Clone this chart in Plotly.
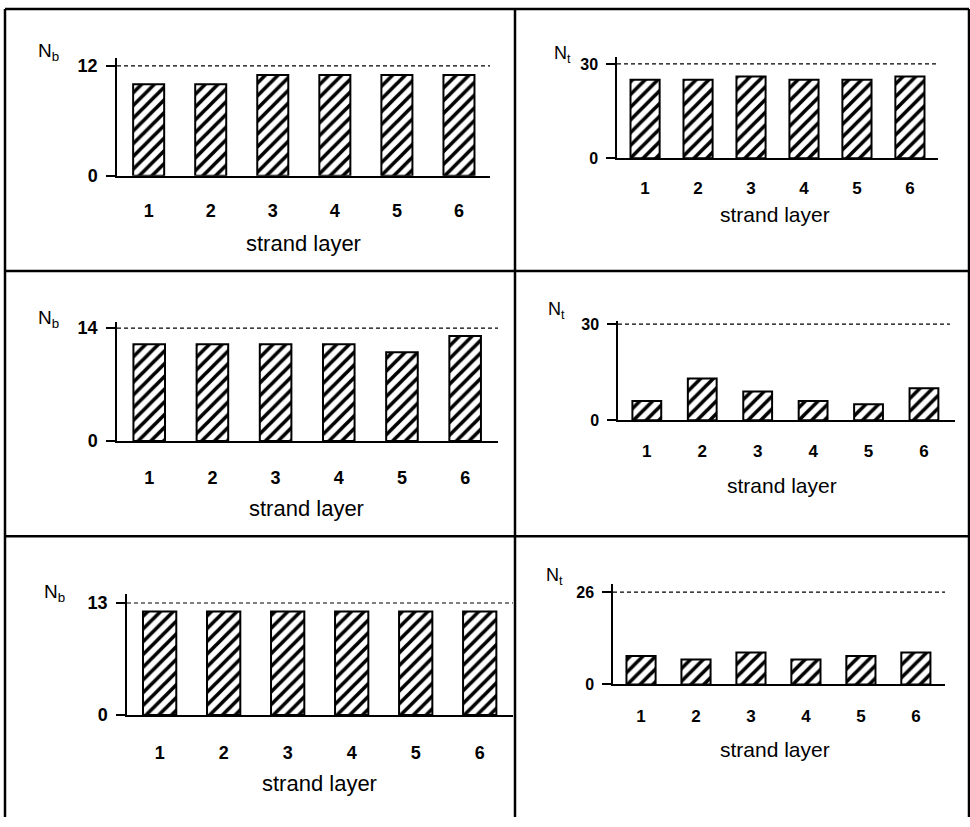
import plotly.graph_objects as go

W, H = 970, 827

# ---------------- data ----------------
layers = [1, 2, 3, 4, 5, 6]
nb_top = [10, 10, 11, 11, 11, 11]
nt_top = [25, 25, 26, 25, 25, 26]
nb_mid = [12, 12, 12, 12, 11, 13]
nt_mid = [6, 13, 9, 6, 5, 10]
nb_bot = [12, 12, 12, 12, 12, 12]
nt_bot = [8, 7, 9, 7, 8, 9]
limits = [12, 30, 14, 30, 13, 26]
ylabels = ["N<sub>b</sub>", "N<sub>t</sub>", "N<sub>b</sub>", "N<sub>t</sub>", "N<sub>b</sub>", "N<sub>t</sub>"]
xtitle = "strand layer"

series = [nb_top, nt_top, nb_mid, nt_mid, nb_bot, nt_bot]

# ---------------- layout geometry (pixels) ----------------
geo = [
    dict(x0=117, x1=490, y0=174, y1=54, xr=[0.49, 6.5], ytop=12.86, bw=0.50,
         big=True, stand=18, lab=(36, 48), tit=(303, 243), dash_x1=1.0),
    dict(x0=617, x1=938, y0=156, y1=53, xr=[0.47, 6.53], ytop=32.2, bw=0.55,
         big=False, stand=13, lab=(552, 50), tit=(775, 213), dash_x1=1.0),
    dict(x0=117, x1=498, y0=444, y1=323, xr=[0.49, 6.52], ytop=14.73, bw=0.50,
         big=True, stand=19, lab=(36, 320), tit=(306, 513), dash_x1=1.0),
    dict(x0=618, x1=955, y0=423, y1=322, xr=[0.48, 6.56], ytop=30.9, bw=0.52,
         big=False, stand=14, lab=(546, 311), tit=(782, 489), dash_x1=0.985),
    dict(x0=127, x1=513, y0=723, y1=600, xr=[0.49, 6.52], ytop=14.03, bw=0.52,
         big=True, stand=21, lab=(42, 599), tit=(319, 793), dash_x1=1.0),
    dict(x0=613, x1=945, y0=692, y1=590, xr=[0.49, 6.53], ytop=28.2, bw=0.53,
         big=False, stand=15, lab=(544, 582), tit=(775, 758), dash_x1=1.0),
]

def px(x):
    return x / W

def py(y):
    return 1 - y / H

FONT = "Liberation Sans, Arial, sans-serif"

fig = go.Figure()
layout = dict(
    autosize=True,
    margin=dict(l=0, r=0, t=0, b=0, pad=0),
    paper_bgcolor="white", plot_bgcolor="rgba(0,0,0,0)",
    showlegend=False,
    font=dict(family=FONT, color="black"),
)
shapes = []
annotations = []

for i, (vals, g) in enumerate(zip(series, geo)):
    n = i + 1
    xa = "x" if n == 1 else f"x{n}"
    ya = "y" if n == 1 else f"y{n}"
    xkey = "xaxis" if n == 1 else f"xaxis{n}"
    ykey = "yaxis" if n == 1 else f"yaxis{n}"

    fig.add_trace(go.Bar(
        x=layers, y=vals, xaxis=xa, yaxis=ya, width=g["bw"],
        marker=dict(
            color="white",
            line=dict(color="black", width=2),
            pattern=dict(shape="/", fgcolor="black", bgcolor="white",
                         size=9, solidity=0.4, fillmode="replace"),
        ),
        hoverinfo="x+y",
    ))

    xt_font = dict(family=FONT, size=18 if g["big"] else 17, color="black", weight="bold")
    yt_font = dict(family=FONT, size=18 if g["big"] else 16, color="black", weight="bold")
    layout[xkey] = dict(
        domain=[px(g["x0"]), px(g["x1"])],
        anchor=ya, range=g["xr"],
        tickmode="array", tickvals=layers, ticktext=[str(v) for v in layers],
        ticks="", showgrid=False, zeroline=False,
        showline=True, linecolor="black", linewidth=2,
        tickfont=xt_font, ticklabelstandoff=g["stand"],
        fixedrange=True,
    )
    layout[ykey] = dict(
        domain=[py(g["y0"]), py(g["y1"])],
        anchor=xa, range=[0, g["ytop"]],
        tickmode="array", tickvals=[0, limits[i]], ticktext=["0", str(limits[i])],
        ticks="outside", ticklen=9, tickwidth=1.5, tickcolor="black",
        showgrid=False, zeroline=False,
        showline=True, linecolor="black", linewidth=1.5,
        tickfont=yt_font, ticklabelstandoff=5,
        fixedrange=True,
    )

    shapes.append(dict(
        type="line", xref=f"{xa} domain", yref=ya,
        x0=0, x1=g["dash_x1"], y0=limits[i], y1=limits[i],
        line=dict(color="black", width=1.2, dash="4px,3px"),
    ))

    annotations.append(dict(
        text=ylabels[i], xref="paper", yref="paper",
        x=px(g["lab"][0]), y=py(g["lab"][1]),
        xanchor="left", yanchor="middle", showarrow=False,
        font=dict(family=FONT, size=19 if g["big"] else 18, color="black"),
    ))
    annotations.append(dict(
        text=xtitle, xref="paper", yref="paper",
        x=px(g["tit"][0]), y=py(g["tit"][1]),
        xanchor="center", yanchor="middle", showarrow=False,
        font=dict(family=FONT, size=22 if g["big"] else 21, color="black"),
    ))

tbl = dict(color="black", width=2.5)
for (x0, y0, x1, y1) in [
    (5, 4, 969, 4),
    (5, 4, 5, 827),
    (969, 4, 969, 827),
    (515, 4, 515, 827),
    (5, 271, 969, 271),
    (5, 541, 969, 541),
]:
    shapes.append(dict(type="line", xref="paper", yref="paper",
                       x0=px(x0), x1=px(x1), y0=py(y0), y1=py(y1), line=tbl))

layout["shapes"] = shapes
layout["annotations"] = annotations
fig.update_layout(**layout)

fig.write_html(
    "out.html",
    config={"displayModeBar": False},
    default_width=f"{W}px",
    default_height=f"{H}px; position:absolute; top:0px; left:0px",
    post_script=(
        "document.body.style.margin='0px';"
        "document.body.style.overflow='hidden';"
        "document.documentElement.style.overflow='hidden';"
    ),
)
